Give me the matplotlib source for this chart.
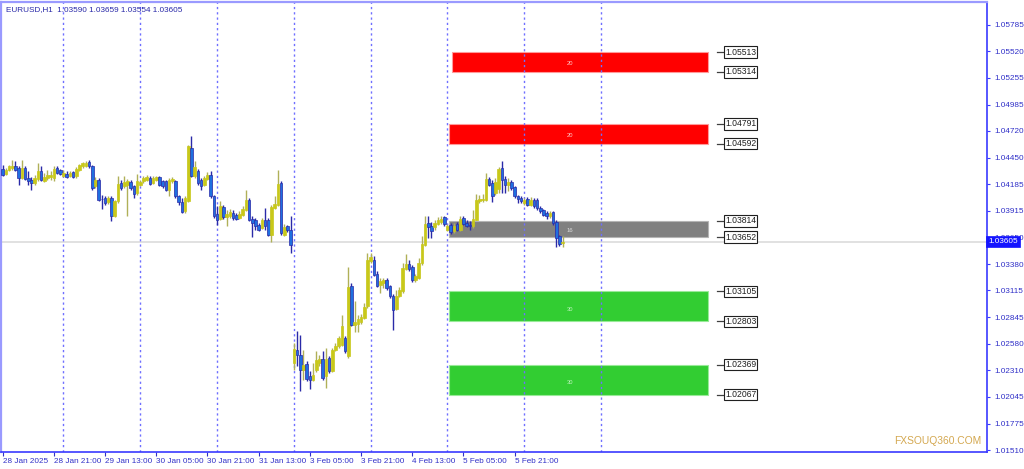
import matplotlib
matplotlib.use('Agg')
import matplotlib.pyplot as plt
import matplotlib.transforms as mtransforms
from matplotlib.patches import Rectangle

plt.rcParams['font.family'] = ['Liberation Sans', 'DejaVu Sans']

# EURUSD H1 bars, 28 Jan 2025 05:00 -> 6 Feb 2025 12:00 (index 0..175)
opens = [
    1.04337, 1.04290, 1.04323, 1.04347, 1.04364, 1.04347, 1.04246, 1.04347, 1.04246, 1.04230,
    1.04196, 1.04236, 1.04313, 1.04213, 1.04246, 1.04256, 1.04246, 1.04343, 1.04323, 1.04269,
    1.04290, 1.04263, 1.04303, 1.04263, 1.04330, 1.04364, 1.04370, 1.04404, 1.04364, 1.04162,
    1.04230, 1.04035, 1.04045, 1.04005, 1.04045, 1.03861, 1.04011, 1.04196, 1.04162, 1.04179,
    1.04203, 1.04162, 1.04095, 1.04179, 1.04213, 1.04230, 1.04246, 1.04196, 1.04223, 1.04256,
    1.04213, 1.04213, 1.04129, 1.04213, 1.04213, 1.04062, 1.04001, 1.03911, 1.04011, 1.04548,
    1.04263, 1.04313, 1.04223, 1.04179, 1.04236, 1.04280, 1.04062, 1.03880, 1.03830, 1.03955,
    1.03854, 1.03867, 1.03894, 1.03877, 1.03844, 1.03877, 1.03928, 1.04028, 1.03834, 1.03820,
    1.03777, 1.03743, 1.03827, 1.03827, 1.03676, 1.03945, 1.03978, 1.04196, 1.03676, 1.03760,
    1.03727, 1.02385, 1.02519, 1.02469, 1.02318, 1.02378, 1.02251, 1.02211, 1.02318, 1.02385,
    1.02425, 1.02251, 1.02435, 1.02301, 1.02519, 1.02553, 1.02569, 1.02637, 1.02452, 1.03156,
    1.02771, 1.02781, 1.02794, 1.02838, 1.02955, 1.03408, 1.03424, 1.03284, 1.03173, 1.03190,
    1.03223, 1.03156, 1.03056, 1.02928, 1.03062, 1.03106, 1.03331, 1.03384, 1.03351, 1.03223,
    1.03240, 1.03391, 1.03575, 1.03793, 1.03767, 1.03753, 1.03787, 1.03800, 1.03854, 1.03726,
    1.03773, 1.03709, 1.03787, 1.03726, 1.03844, 1.03793, 1.03777, 1.03760, 1.03827, 1.04011,
    1.04021, 1.04028, 1.04236, 1.04196, 1.04095, 1.04135, 1.04347, 1.04236, 1.04179, 1.04202,
    1.04155, 1.04062, 1.04045, 1.03995, 1.04035, 1.03978, 1.04028, 1.04021, 1.03944, 1.03921,
    1.03894, 1.03860, 1.03901, 1.03800, 1.03666, 1.03590,
]
highs = [
    1.04380, 1.04347, 1.04380, 1.04431, 1.04414, 1.04364, 1.04431, 1.04364, 1.04313, 1.04256,
    1.04280, 1.04397, 1.04364, 1.04297, 1.04330, 1.04313, 1.04364, 1.04364, 1.04337, 1.04330,
    1.04313, 1.04313, 1.04313, 1.04354, 1.04390, 1.04410, 1.04414, 1.04424, 1.04380, 1.04256,
    1.04246, 1.04079, 1.04069, 1.04069, 1.04062, 1.04028, 1.04270, 1.04223, 1.04263, 1.04236,
    1.04230, 1.04179, 1.04290, 1.04230, 1.04263, 1.04280, 1.04263, 1.04263, 1.04270, 1.04270,
    1.04230, 1.04223, 1.04246, 1.04256, 1.04230, 1.04079, 1.04045, 1.04062, 1.04582, 1.04672,
    1.04414, 1.04337, 1.04246, 1.04270, 1.04303, 1.04313, 1.04079, 1.03960, 1.04011, 1.03978,
    1.03928, 1.03934, 1.03921, 1.03894, 1.03911, 1.03961, 1.04129, 1.04045, 1.03861, 1.03844,
    1.03794, 1.03844, 1.03945, 1.03844, 1.03978, 1.04069, 1.04330, 1.04213, 1.03787, 1.03777,
    1.03867, 1.02586, 1.02704, 1.02670, 1.02519, 1.02402, 1.02301, 1.02385, 1.02502, 1.02469,
    1.02502, 1.02536, 1.02452, 1.02536, 1.02586, 1.02653, 1.02871, 1.02660, 1.03351, 1.03190,
    1.03006, 1.02871, 1.02881, 1.02989, 1.03492, 1.03492, 1.03465, 1.03307, 1.03240, 1.03240,
    1.03240, 1.03173, 1.03082, 1.03123, 1.03149, 1.03391, 1.03485, 1.03424, 1.03374, 1.03284,
    1.03441, 1.03659, 1.03860, 1.03860, 1.03800, 1.03827, 1.03850, 1.03860, 1.03867, 1.03787,
    1.03793, 1.03793, 1.03800, 1.03860, 1.03860, 1.03820, 1.03810, 1.03927, 1.04088, 1.04078,
    1.04088, 1.04296, 1.04256, 1.04229, 1.04246, 1.04357, 1.04414, 1.04263, 1.04246, 1.04222,
    1.04169, 1.04078, 1.04062, 1.04045, 1.04055, 1.04055, 1.04045, 1.04045, 1.03961, 1.03934,
    1.03911, 1.03917, 1.03911, 1.03820, 1.03676, 1.03659,
]
lows = [
    1.04263, 1.04280, 1.04313, 1.04330, 1.04313, 1.04179, 1.04236, 1.04223, 1.04179, 1.04129,
    1.04179, 1.04213, 1.04213, 1.04203, 1.04230, 1.04223, 1.04213, 1.04290, 1.04280, 1.04256,
    1.04246, 1.04256, 1.04246, 1.04246, 1.04313, 1.04347, 1.04354, 1.04347, 1.04122, 1.04146,
    1.04012, 1.03938, 1.03978, 1.03988, 1.03810, 1.03854, 1.03995, 1.04129, 1.04146, 1.03867,
    1.04129, 1.04045, 1.04079, 1.04162, 1.04196, 1.04219, 1.04179, 1.04186, 1.04213, 1.04169,
    1.04146, 1.04112, 1.04069, 1.04196, 1.04045, 1.03978, 1.03894, 1.03894, 1.04001, 1.04256,
    1.04246, 1.04179, 1.04129, 1.04162, 1.04223, 1.04045, 1.03844, 1.03777, 1.03820, 1.03834,
    1.03760, 1.03844, 1.03827, 1.03820, 1.03834, 1.03861, 1.03911, 1.03810, 1.03653, 1.03727,
    1.03710, 1.03733, 1.03727, 1.03666, 1.03599, 1.03934, 1.03968, 1.03676, 1.03666, 1.03700,
    1.03492, 1.02318, 1.02352, 1.02100, 1.02217, 1.02201, 1.02124, 1.02201, 1.02291, 1.02358,
    1.02217, 1.02134, 1.02285, 1.02291, 1.02502, 1.02536, 1.02553, 1.02486, 1.02435, 1.02754,
    1.02694, 1.02694, 1.02781, 1.02828, 1.02938, 1.03391, 1.03257, 1.03150, 1.03089, 1.03139,
    1.03123, 1.03039, 1.02720, 1.02915, 1.03049, 1.03089, 1.03317, 1.03307, 1.03197, 1.03197,
    1.03230, 1.03374, 1.03559, 1.03642, 1.03642, 1.03726, 1.03777, 1.03787, 1.03767, 1.03709,
    1.03686, 1.03693, 1.03709, 1.03716, 1.03777, 1.03753, 1.03726, 1.03743, 1.03820, 1.03995,
    1.04001, 1.04011, 1.04162, 1.04001, 1.04078, 1.04095, 1.04095, 1.04095, 1.04112, 1.04129,
    1.04045, 1.03995, 1.03995, 1.03978, 1.03961, 1.03968, 1.03944, 1.03927, 1.03894, 1.03860,
    1.03834, 1.03844, 1.03777, 1.03552, 1.03559, 1.03554,
]
closes = [
    1.04280, 1.04330, 1.04364, 1.04370, 1.04330, 1.04246, 1.04347, 1.04236, 1.04213, 1.04196,
    1.04246, 1.04313, 1.04230, 1.04256, 1.04280, 1.04276, 1.04337, 1.04297, 1.04290, 1.04297,
    1.04256, 1.04297, 1.04256, 1.04337, 1.04374, 1.04394, 1.04397, 1.04364, 1.04146, 1.04230,
    1.04028, 1.04030, 1.03995, 1.04045, 1.03861, 1.04011, 1.04189, 1.04146, 1.04203, 1.04213,
    1.04146, 1.04089, 1.04213, 1.04209, 1.04243, 1.04260, 1.04189, 1.04243, 1.04253, 1.04179,
    1.04162, 1.04129, 1.04230, 1.04233, 1.04062, 1.04005, 1.03904, 1.04045, 1.04565, 1.04263,
    1.04357, 1.04196, 1.04162, 1.04250, 1.04276, 1.04062, 1.03861, 1.03820, 1.03968, 1.03851,
    1.03887, 1.03901, 1.03844, 1.03834, 1.03887, 1.03934, 1.04028, 1.03827, 1.03794, 1.03760,
    1.03727, 1.03827, 1.03767, 1.03676, 1.03955, 1.03988, 1.04189, 1.03693, 1.03753, 1.03720,
    1.03576, 1.02526, 1.02469, 1.02318, 1.02368, 1.02224, 1.02217, 1.02261, 1.02412, 1.02425,
    1.02234, 1.02425, 1.02301, 1.02513, 1.02559, 1.02633, 1.02761, 1.02502, 1.03150, 1.02771,
    1.02794, 1.02831, 1.02848, 1.02948, 1.03424, 1.03451, 1.03274, 1.03163, 1.03207, 1.03217,
    1.03139, 1.03056, 1.02921, 1.03062, 1.03116, 1.03341, 1.03381, 1.03331, 1.03217, 1.03264,
    1.03391, 1.03585, 1.03787, 1.03753, 1.03709, 1.03793, 1.03827, 1.03837, 1.03787, 1.03760,
    1.03699, 1.03767, 1.03726, 1.03834, 1.03787, 1.03767, 1.03760, 1.03837, 1.04021, 1.04035,
    1.04035, 1.04236, 1.04179, 1.04068, 1.04202, 1.04336, 1.04229, 1.04179, 1.04209, 1.04145,
    1.04062, 1.04035, 1.04011, 1.04028, 1.03978, 1.04028, 1.03961, 1.03944, 1.03911, 1.03877,
    1.03867, 1.03894, 1.03793, 1.03642, 1.03585, 1.03605,
]

tick_pos = [0, 16, 32, 48, 64, 80, 96, 112, 128, 144, 160]
tick_labels = ['28 Jan 2025', '28 Jan 21:00', '29 Jan 13:00', '30 Jan 05:00', '30 Jan 21:00',
               '31 Jan 13:00', '3 Feb 05:00', '3 Feb 21:00', '4 Feb 13:00', '5 Feb 05:00',
               '5 Feb 21:00']
day_separators = [19, 43, 67, 91, 115, 139, 163, 187]

price_ticks = [1.05785, 1.05520, 1.05255, 1.04985, 1.04720, 1.04450, 1.04185, 1.03915,
               1.03650, 1.03380, 1.03115, 1.02845, 1.02580, 1.02310, 1.02045, 1.01775, 1.01510]

zone_top = [1.05513, 1.04791, 1.03814, 1.03105, 1.02369]
zone_bottom = [1.05314, 1.04592, 1.03652, 1.02803, 1.02067]
zone_start = [140.5, 139.5, 139.5, 139.5, 139.5]
zone_end = [220.4, 220.4, 220.4, 220.4, 220.4]
zone_color = ['#ff0000', '#ff0000', '#808080', '#32cd32', '#32cd32']
zone_edge = ['#ff9a9a', '#ff9a9a', '#b4b4b4', '#98ea98', '#98ea98']
zone_text = ['20', '20', '16', '30', '30']
zone_text_color = ['#ffc8c8', '#ffc8c8', '#dcdcdc', '#c0f5c0', '#c0f5c0']

last_price = 1.03605
header = 'EURUSD,H1  1.03590 1.03659 1.03554 1.03605'

bull_body = '#c8c81a'
bull_wick = '#b0b058'
bear_body = '#1f6fe0'
bear_wick = '#2a2aa8'
axis_blue = '#3a3aff'
label_blue = '#3030c8'

fig = plt.figure(figsize=(10.24, 4.69), dpi=100)
ax = fig.add_axes([1 / 1024, 17 / 469, 986 / 1024, 450 / 469])
ax.set_facecolor('white')

# current price line
ax.axhline(last_price, color='#dcdcdc', lw=1.2, zorder=1)

# zones
for k in range(len(zone_top)):
    ax.add_patch(Rectangle((zone_start[k], zone_bottom[k]), zone_end[k] - zone_start[k],
                           zone_top[k] - zone_bottom[k], facecolor=zone_color[k],
                           edgecolor=zone_edge[k], lw=0.8, zorder=2))
    mid = (zone_top[k] + zone_bottom[k]) / 2
    ax.text(177.3, mid - (zone_top[k] - zone_bottom[k]) * 0.1, zone_text[k], fontsize=4.2,
            color=zone_text_color[k], ha='center', va='center', zorder=3)
    for lvl in (zone_top[k], zone_bottom[k]):
        ax.plot([223.2, 225.2], [lvl, lvl], color='#404040', lw=0.9, zorder=3)
        ax.text(225.7, lvl, '%.5f' % lvl, fontsize=6.2, color='#202020', ha='left',
                va='center', zorder=4,
                bbox=dict(boxstyle='square,pad=0.15', fc='white', ec='#202020', lw=0.8))

# period separators
for s in day_separators:
    ax.axvline(s, color='#6f6fff', lw=1.0, ls=(0, (1.6, 2.2)), zorder=2.5)

# candles
for i in range(len(opens)):
    o, h, l, c = opens[i], highs[i], lows[i], closes[i]
    if c >= o:
        wc, bc, ec = bull_wick, bull_body, bull_body
    else:
        wc, bc, ec = bear_wick, bear_body, bear_wick
    if abs(c - o) < 0.00003:
        wc, bc, ec = '#40e040', '#40e040', '#40e040'
    ax.vlines(i, l, h, color=wc, lw=1.0, zorder=5)
    lo = min(o, c)
    hgt = max(abs(c - o), 0.00003)
    ax.bar(i, hgt, bottom=lo, width=0.85, color=bc, edgecolor=ec, lw=0.5, zorder=6)

ax.set_xlim(-0.53, 307.6)
ax.set_ylim(1.01490, 1.06016)

# axes styling
for side in ('right', 'bottom'):
    ax.spines[side].set_color(axis_blue)
    ax.spines[side].set_linewidth(1.2)
for side in ('left', 'top'):
    ax.spines[side].set_color('#9a9aff')
    ax.spines[side].set_linewidth(1.6)

ax.yaxis.tick_right()
ax.set_yticks(price_ticks)
ax.set_yticklabels(['%.5f' % p for p in price_ticks])
ax.tick_params(axis='y', labelsize=5.9, colors=label_blue, length=2.5, width=0.8, pad=2.5)
ax.tick_params(axis='y', color=axis_blue)

ax.set_xticks(tick_pos)
ax.set_xticklabels(tick_labels)
ax.tick_params(axis='x', labelsize=5.9, colors=label_blue, length=3, width=0.8, pad=1.5)
for lab in ax.get_xticklabels():
    lab.set_horizontalalignment('left')

# current price tag on the axis
trans = mtransforms.blended_transform_factory(ax.transAxes, ax.transData)
ax.text(1.0015, last_price, '1.03605', transform=trans, fontsize=5.9, color='white',
        ha='left', va='center', zorder=10, clip_on=False,
        bbox=dict(boxstyle='square,pad=0.25', fc='#1414ff', ec='#1414ff', lw=0.5))

ax.text(5 / 986, 1 - 4 / 450, header, transform=ax.transAxes, fontsize=5.9,
        color='#2828a8', ha='left', va='top', zorder=10)

fig.text(938 / 1024, 1 - 441 / 469, 'FXSOUQ360.COM', ha='center', va='center',
         color='#d4a850', fontsize=7.4)

fig.savefig('out.png', dpi=100)
